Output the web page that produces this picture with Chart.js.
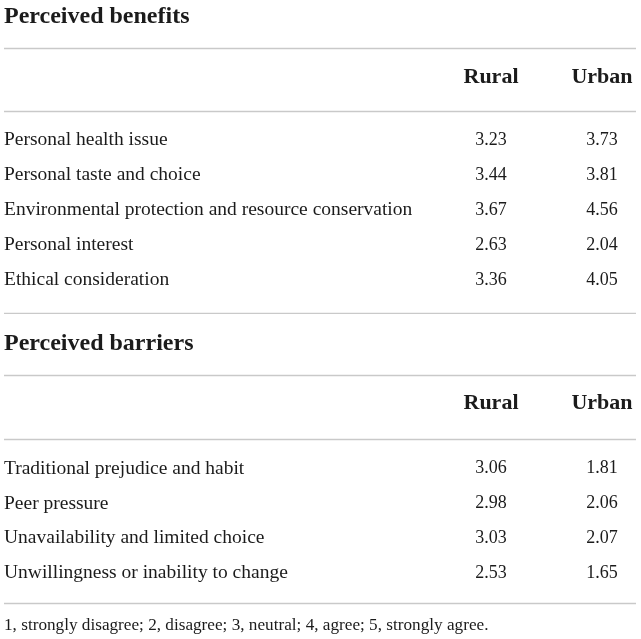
<!DOCTYPE html>
<html>
<head>
<meta charset="utf-8">
<script src="https://cdn.jsdelivr.net/npm/chart.js@4.4.1/dist/chart.umd.min.js"></script>
<style>
  html, body { margin: 0; padding: 0; background: #fff; }
  .bloque { position: relative; width: 641px; }
</style>
</head>
<body>
<div class="bloque" style="height:314px"><canvas id="tablaBeneficios"></canvas></div>
<div class="bloque" style="height:325px"><canvas id="tablaBarreras"></canvas></div>
<script>
// datos de la tabla
const columnas = ['Rural', 'Urban'];

const beneficiosTitulo = 'Perceived benefits';
const beneficiosFilas = [
    'Personal health issue',
    'Personal taste and choice',
    'Environmental protection and resource conservation',
    'Personal interest',
    'Ethical consideration'
];
const beneficiosRural = [3.23, 3.44, 3.67, 2.63, 3.36];
const beneficiosUrban = [3.73, 3.81, 4.56, 2.04, 4.05];

const barrerasTitulo = 'Perceived barriers';
const barrerasFilas = [
    'Traditional prejudice and habit',
    'Peer pressure',
    'Unavailability and limited choice',
    'Unwillingness or inability to change'
];
const barrerasRural = [3.06, 2.98, 3.03, 2.53];
const barrerasUrban = [1.81, 2.06, 2.07, 1.65];

const notaPie = '1, strongly disagree; 2, disagree; 3, neutral; 4, agree; 5, strongly agree.';

const fuente = "'Liberation Serif', 'DejaVu Serif', serif";
const colorTexto = '#1b1b1b';
const colorLinea = '#c9c9c9';

// dibuja cabeceras, valores de cada celda y lineas horizontales
const pluginTabla = {
    id: 'pluginTabla',
    afterDatasetsDraw(chart, args, opts) {
        const ctx = chart.ctx;
        const area = chart.chartArea;
        const xScale = chart.scales.x;
        ctx.save();
        ctx.fillStyle = colorTexto;
        ctx.textAlign = 'center';
        ctx.textBaseline = 'middle';

        // cabeceras Rural / Urban
        ctx.font = 'bold 22px ' + fuente;
        columnas.forEach(c => {
            ctx.fillText(c, xScale.getPixelForValue(c), area.top - opts.cabecera);
        });

        // valores
        ctx.font = '18px ' + fuente;
        chart.data.datasets.forEach((ds, i) => {
            const meta = chart.getDatasetMeta(i);
            meta.data.forEach((pt, j) => {
                ctx.fillText(ds.valores[j].toFixed(2), pt.x, pt.y);
            });
        });

        // lineas
        ctx.strokeStyle = colorLinea;
        ctx.lineWidth = 1.5;
        const lineas = [xScale.top, area.top - 12, area.bottom + opts.abajo];
        lineas.forEach(y => {
            ctx.beginPath();
            ctx.moveTo(4, Math.round(y) + 0.5);
            ctx.lineTo(chart.width - 5, Math.round(y) + 0.5);
            ctx.stroke();
        });
        ctx.restore();
    }
};

function crearTabla(id, titulo, filas, rural, urban, extra) {
    const ctx = document.getElementById(id).getContext('2d');
    return new Chart(ctx, {
        type: 'scatter',
        data: {
            datasets: [
                {
                    label: columnas[0],
                    data: filas.map(f => ({ x: columnas[0], y: f })),
                    valores: rural,
                    pointRadius: 0,
                    pointHoverRadius: 0
                },
                {
                    label: columnas[1],
                    data: filas.map(f => ({ x: columnas[1], y: f })),
                    valores: urban,
                    pointRadius: 0,
                    pointHoverRadius: 0
                }
            ]
        },
        options: {
            responsive: true,
            maintainAspectRatio: false,
            animation: false,
            events: [],
            layout: {
                padding: { left: 4, right: 39, top: 0, bottom: extra.paddingAbajo }
            },
            plugins: {
                legend: { display: false },
                tooltip: { enabled: false },
                title: {
                    display: true,
                    text: titulo,
                    align: 'start',
                    color: colorTexto,
                    font: { family: fuente, size: 24, weight: 'bold', lineHeight: 1.2 },
                    padding: { top: extra.tituloArriba, bottom: extra.tituloAbajo }
                },
                subtitle: extra.nota ? {
                    display: true,
                    text: extra.nota,
                    position: 'bottom',
                    align: 'start',
                    color: colorTexto,
                    font: { family: fuente, size: 17.2, lineHeight: 1.2 },
                    padding: { top: 24.5, bottom: 3.5 }
                } : { display: false },
                pluginTabla: { abajo: extra.lineaAbajo, cabecera: extra.cabecera }
            },
            scales: {
                x: {
                    type: 'category',
                    labels: columnas,
                    position: 'top',
                    offset: false,
                    grid: { display: false },
                    border: { display: false },
                    ticks: { display: false },
                    afterFit: scale => { scale.height = extra.altoCabecera; }
                },
                y: {
                    type: 'category',
                    labels: filas,
                    offset: true,
                    grid: { display: false },
                    border: { display: false },
                    ticks: {
                        color: colorTexto,
                        crossAlign: 'far',
                        font: { family: fuente, size: 19.5, lineHeight: 1.2 },
                        autoSkip: false
                    },
                    afterFit: scale => { scale.width = 487; }
                }
            }
        },
        plugins: [pluginTabla]
    });
}

crearTabla('tablaBeneficios', beneficiosTitulo, beneficiosFilas, beneficiosRural, beneficiosUrban,
    { tituloArriba: 2.5, tituloAbajo: 16.7, paddingAbajo: 16.5, lineaAbajo: 15.5, altoCabecera: 74.5, cabecera: 45 });
crearTabla('tablaBarreras', barrerasTitulo, barrerasFilas, barrerasRural, barrerasUrban,
    { tituloArriba: 15.7, tituloAbajo: 16.7, paddingAbajo: 0, lineaAbajo: 13, altoCabecera: 76, cabecera: 47.5, nota: notaPie });
</script>
</body>
</html>
